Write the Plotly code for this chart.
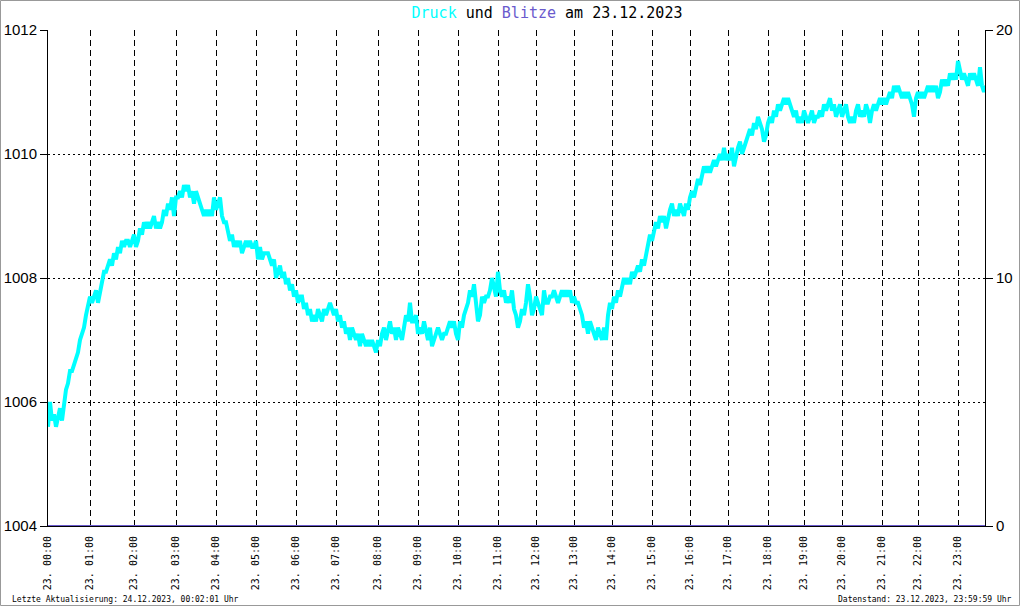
import plotly.graph_objects as go

# ---- data -------------------------------------------------------------
# Luftdruck (hPa), one value per sample (sample index on the x axis)
druck = [
    1005.6, 1006.0, 1005.7, 1005.8, 1005.6, 1005.8, 1005.9, 1005.7, 1006.0, 1006.2,
    1006.3, 1006.5, 1006.5, 1006.6, 1006.7, 1006.8, 1007.0, 1007.1, 1007.2, 1007.4,
    1007.6, 1007.7, 1007.6, 1007.7, 1007.8, 1007.6, 1007.8, 1008.0, 1008.1, 1008.1,
    1008.2, 1008.3, 1008.2, 1008.4, 1008.3, 1008.5, 1008.4, 1008.6, 1008.5, 1008.6,
    1008.6, 1008.5, 1008.6, 1008.7, 1008.5, 1008.6, 1008.8, 1008.7, 1008.9, 1008.8,
    1008.9, 1008.8, 1008.9, 1009.0, 1008.8, 1008.9, 1008.8, 1008.9, 1009.1, 1009.0,
    1009.2, 1009.1, 1009.3, 1009.0, 1009.3, 1009.3, 1009.4, 1009.3, 1009.5, 1009.4,
    1009.5, 1009.3, 1009.4, 1009.2, 1009.4, 1009.3, 1009.2, 1009.1, 1009.0, 1009.1,
    1009.0, 1009.1, 1009.0, 1009.3, 1009.1, 1009.2, 1009.3, 1009.0, 1008.9, 1008.9,
    1008.7, 1008.6, 1008.7, 1008.5, 1008.6, 1008.5, 1008.6, 1008.4, 1008.5, 1008.6,
    1008.5, 1008.6, 1008.5, 1008.5, 1008.6, 1008.3, 1008.5, 1008.3, 1008.4, 1008.4,
    1008.4, 1008.3, 1008.2, 1008.3, 1008.0, 1008.1, 1008.2, 1008.0, 1008.1, 1007.9,
    1008.0, 1007.8, 1007.9, 1007.7, 1007.8, 1007.6, 1007.7, 1007.7, 1007.5, 1007.6,
    1007.4, 1007.5, 1007.3, 1007.4, 1007.3, 1007.5, 1007.4, 1007.3, 1007.5, 1007.4,
    1007.5, 1007.6, 1007.5, 1007.4, 1007.5, 1007.3, 1007.4, 1007.2, 1007.3, 1007.1,
    1007.2, 1007.0, 1007.2, 1007.1, 1007.0, 1007.1, 1006.9, 1007.1, 1007.0, 1006.9,
    1007.0, 1006.9, 1007.0, 1006.9, 1006.8, 1007.0, 1006.9, 1007.1, 1007.2, 1007.0,
    1007.2, 1007.3, 1007.1, 1007.2, 1007.0, 1007.2, 1007.1, 1007.0, 1007.2, 1007.4,
    1007.3, 1007.6, 1007.3, 1007.3, 1007.4, 1007.1, 1007.2, 1007.1, 1007.3, 1007.1,
    1007.0, 1007.2, 1006.9, 1007.0, 1007.1, 1007.2, 1007.1, 1007.0, 1007.1, 1007.1,
    1007.2, 1007.3, 1007.2, 1007.3, 1007.1, 1007.0, 1007.3, 1007.2, 1007.4, 1007.5,
    1007.6, 1007.8, 1007.7, 1007.9, 1007.6, 1007.3, 1007.4, 1007.7, 1007.6, 1007.7,
    1007.7, 1007.8, 1008.0, 1007.8, 1007.7, 1008.1, 1007.8, 1007.7, 1007.8, 1007.6,
    1007.7, 1007.6, 1007.8, 1007.5, 1007.4, 1007.2, 1007.3, 1007.5, 1007.4, 1007.6,
    1007.9, 1007.7, 1007.4, 1007.5, 1007.7, 1007.6, 1007.5, 1007.4, 1007.8, 1007.6,
    1007.6, 1007.7, 1007.7, 1007.8, 1007.7, 1007.6, 1007.7, 1007.8, 1007.7, 1007.8,
    1007.7, 1007.8, 1007.6, 1007.7, 1007.6, 1007.6, 1007.5, 1007.4, 1007.2, 1007.3,
    1007.1, 1007.3, 1007.2, 1007.1, 1007.0, 1007.2, 1007.1, 1007.0, 1007.2, 1007.0,
    1007.4, 1007.6, 1007.5, 1007.7, 1007.6, 1007.8, 1007.7, 1007.9, 1008.0, 1007.9,
    1008.0, 1007.9, 1008.1, 1008.0, 1008.1, 1008.2, 1008.1, 1008.3, 1008.2, 1008.4,
    1008.5, 1008.7, 1008.6, 1008.8, 1008.9, 1008.8, 1009.0, 1008.9, 1009.0, 1008.8,
    1009.0, 1009.1, 1009.2, 1009.0, 1009.1, 1009.0, 1009.2, 1009.1, 1009.0, 1009.2,
    1009.1, 1009.3, 1009.4, 1009.3, 1009.5, 1009.6, 1009.5, 1009.7, 1009.8, 1009.7,
    1009.8, 1009.7, 1009.8, 1009.9, 1009.8, 1009.9, 1010.0, 1009.9, 1010.1, 1009.9,
    1010.0, 1009.9, 1010.1, 1009.8, 1010.0, 1010.1, 1010.2, 1010.0, 1010.1, 1010.2,
    1010.3, 1010.4, 1010.3, 1010.5, 1010.4, 1010.6, 1010.5, 1010.4, 1010.2, 1010.3,
    1010.5, 1010.6, 1010.5, 1010.7, 1010.6, 1010.8, 1010.7, 1010.8, 1010.9, 1010.8,
    1010.9, 1010.8, 1010.7, 1010.6, 1010.7, 1010.5, 1010.6, 1010.5, 1010.7, 1010.6,
    1010.5, 1010.6, 1010.7, 1010.5, 1010.6, 1010.6, 1010.7, 1010.6, 1010.8, 1010.7,
    1010.8, 1010.9, 1010.7, 1010.8, 1010.6, 1010.7, 1010.8, 1010.6, 1010.7, 1010.8,
    1010.6, 1010.5, 1010.6, 1010.5, 1010.7, 1010.8, 1010.6, 1010.7, 1010.6, 1010.8,
    1010.7, 1010.5, 1010.7, 1010.8, 1010.7, 1010.8, 1010.9, 1010.8, 1010.9, 1010.8,
    1010.9, 1011.0, 1010.9, 1011.1, 1011.0, 1011.1, 1011.0, 1010.9, 1011.0, 1010.9,
    1011.0, 1010.9, 1010.8, 1010.6, 1010.9, 1011.0, 1010.9, 1011.0, 1010.9, 1011.0,
    1011.1, 1011.0, 1011.1, 1011.0, 1011.1, 1010.9, 1011.0, 1011.2, 1011.1, 1011.2,
    1011.1, 1011.3, 1011.2, 1011.3, 1011.2, 1011.5, 1011.3, 1011.2, 1011.3, 1011.2,
    1011.1, 1011.3, 1011.2, 1011.3, 1011.2, 1011.1, 1011.4, 1011.1, 1011.0, 1011.1,
]
sample_idx = list(range(len(druck)))

# sample index at which each full hour starts, and its label
hour_idx = [0, 21, 43, 64, 84, 104, 124, 144, 165, 185, 205, 225,
            244, 263, 282, 302, 321, 340, 360, 378, 397, 417, 435, 455]
hour_labels = ["23. %02d:00" % h for h in range(24)]

# Blitze (lightning count) per hour: none recorded
blitze_idx = hour_idx + [469]
blitze = [0, 0, 0, 0, 0, 0, 0, 0, 0, 0, 0, 0,
          0, 0, 0, 0, 0, 0, 0, 0, 0, 0, 0, 0, 0]

y_ticks = [1004, 1006, 1008, 1010, 1012]
y2_ticks = [0, 10, 20]

# ---- figure -----------------------------------------------------------
W, H = 1020, 606
L, R, T, B = 48, 35, 30, 80
pw, ph = W - L - R, H - T - B

fig = go.Figure()
fig.add_trace(go.Scatter(
    x=sample_idx, y=druck, mode="lines",
    line=dict(color="#00ffff", width=4), name="Druck",
    hoverinfo="skip"))
fig.add_trace(go.Scatter(
    x=blitze_idx, y=blitze, mode="lines", yaxis="y2",
    line=dict(color="#6a5acd", width=2), name="Blitze",
    cliponaxis=False, hoverinfo="skip"))

mono = "DejaVu Sans Mono"
fig.update_layout(
    width=W, height=H,
    margin=dict(l=L, r=R, t=T, b=B, pad=0, autoexpand=False),
    paper_bgcolor="white", plot_bgcolor="white",
    showlegend=False,
    title=dict(
        text="<span style='color:#00ffff'>Druck</span> und "
             "<span style='color:#6a5acd'>Blitze</span> am 23.12.2023",
        x=(547 - L) / pw, xanchor="center", y=1 - 13 / H, yanchor="middle",
        xref="paper", yref="container",
        font=dict(family=mono, size=15, color="black")),
    xaxis=dict(
        range=[0, 468.5], tickmode="array", tickvals=hour_idx,
        ticktext=hour_labels, tickangle=-90, automargin=False,
        tickfont=dict(family=mono, size=10, color="black"),
        showgrid=True, gridcolor="black", gridwidth=1, griddash="6px,4px",
        showline=True, linecolor="black", linewidth=1,
        ticks="outside", ticklen=5, tickcolor="rgba(0,0,0,0)",
        zeroline=False, fixedrange=True),
    yaxis=dict(
        range=[1004, 1012], tickmode="array", tickvals=y_ticks,
        automargin=False,
        tickfont=dict(family="Liberation Sans", size=15, color="black"),
        showgrid=True, gridcolor="black", gridwidth=1, griddash="2px,3px",
        showline=True, linecolor="black", linewidth=1,
        ticks="outside", ticklen=7, tickcolor="black",
        zeroline=False, fixedrange=True),
    yaxis2=dict(
        range=[0, 20], overlaying="y", side="right", automargin=False,
        tickmode="array", tickvals=y2_ticks,
        tickfont=dict(family="Liberation Sans", size=15, color="black"),
        showgrid=False, showline=True, linecolor="black", linewidth=1,
        ticks="outside", ticklen=7, tickcolor="black",
        zeroline=False, fixedrange=True),
)

fig.add_annotation(
    text="Letzte Aktualisierung: 24.12.2023, 00:02:01 Uhr",
    xref="paper", yref="paper",
    x=(10 - L) / pw, y=(H - B - 599) / ph,
    xanchor="left", yanchor="middle", showarrow=False,
    font=dict(family=mono, size=8, color="black"))
fig.add_annotation(
    text="Datenstand: 23.12.2023, 23:59:59 Uhr",
    xref="paper", yref="paper",
    x=(1014 - L) / pw, y=(H - B - 599) / ph,
    xanchor="right", yanchor="middle", showarrow=False,
    font=dict(family=mono, size=8, color="black"))

# outer grey frame of the image
fig.add_shape(
    type="rect", xref="paper", yref="paper",
    x0=(0.5 - L) / pw, x1=(W - 0.5 - L) / pw,
    y0=(H - B - (H - 0.5)) / ph, y1=(H - B - 0.5) / ph,
    line=dict(color="#999999", width=1), fillcolor="rgba(0,0,0,0)",
    layer="below")

fig.write_html(
    "out.html",
    config={"displayModeBar": False},
    post_script="document.body.style.margin='0';"
                "document.body.style.overflow='hidden';")
